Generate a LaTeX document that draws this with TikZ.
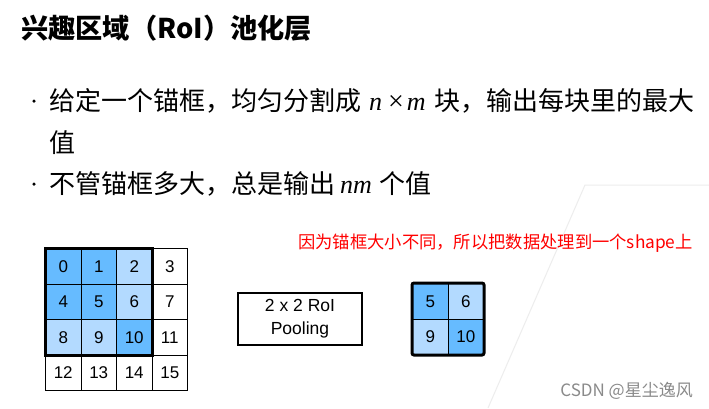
\documentclass[tikz,border=0pt]{standalone}
\usepackage{fontspec}
\setmainfont{Liberation Sans}
\newfontfamily\cjk{Noto Sans CJK SC}
\newfontfamily\letterfont{Liberation Serif}
\newcommand\varit[1]{{\letterfont\itshape #1}}
\usetikzlibrary{positioning}
\definecolor{roi-dark}{HTML}{66BBFF}
\definecolor{roi-light}{HTML}{B3DAFF}
\definecolor{bg-line}{HTML}{EDEDED}
\definecolor{mark-gray}{HTML}{8A8A8A}

\begin{document}
\begin{tikzpicture}[
        x=1pt, y=-1pt,
        every node/.style={inner sep=0pt},
        cell/.style={draw, line width=1pt, minimum size=35.5pt, anchor=north west, font=\fontsize{17}{17}\selectfont},
        outbox/.style={draw, line width=3pt},
        poolbox/.style={draw, line width=1.3pt, minimum width=124pt, minimum height=52pt, align=center, font=\fontsize{17.5}{23}\selectfont},
        titletext/.style={anchor=base west, font=\cjk\bfseries\fontsize{27.2}{27}\selectfont},
        itemtext/.style={anchor=base west, font=\cjk\fontsize{26}{26}\selectfont},
        itemdot/.style={circle, fill, minimum size=3.5pt},
        notetext/.style={anchor=base west, text=red, font=\cjk\fontsize{17.3}{17}\selectfont},
        marktext/.style={anchor=base east, text=mark-gray, font=\cjk\fontsize{17}{17}\selectfont}
    ]

    % --- 0. CANVAS ---
    \fill[white] (0,0) rectangle (709,408);
    \useasboundingbox (0,0) rectangle (709,408);
    \draw[bg-line, line width=1pt] (709,185) -- (585,185) -- (488,408);

    % --- 1. HEADER ---
    \node[titletext] (ttl) at (21,38) {兴趣区域（RoI）池化层};

    % --- 2. BULLETS ---
    \node[itemdot] (d1) at (34,101) {};
    \node[itemtext] (b1) at (49,110) {给定一个锚框，均匀分割成\hspace{8pt}\varit{n}\hspace{6pt}{\letterfont\fontsize{28}{28}\selectfont ×}\hspace{3pt}\varit{m}\hspace{9pt}块，输出每块里的最大};
    \node[itemtext] (b1b) at (49,152) {值};
    \node[itemdot] (d2) at (34,184) {};
    \node[itemtext] (b2) at (49,193) {不管锚框多大，总是输出\hspace{5pt}\varit{nm}\hspace{8pt}个值};

    \node[notetext] (note) at (298,248.5) {因为锚框大小不同，所以把数据处理到一个shape上};

    % --- 3. INPUT GRID ---
    \foreach \n/\clr in {0/roi-dark,1/roi-dark,2/roi-light,3/white,
                         4/roi-dark,5/roi-dark,6/roi-light,7/white,
                         8/roi-light,9/roi-light,10/roi-dark,11/white,
                         12/white,13/white,14/white,15/white}{
        \pgfmathtruncatemacro\col{mod(\n,4)}
        \pgfmathtruncatemacro\row{div(\n,4)}
        \node[cell, fill=\clr] (c\n) at (45+35.5*\col, 248+35.5*\row) {\n};
    }
    \draw[outbox] (c0.north west) rectangle (c10.south east);

    % --- 4. POOLING ---
    \node[poolbox] (pool) at (300,319) {2 x 2 RoI\\Pooling};

    % --- 5. OUTPUT GRID ---
    \node[cell, fill=roi-dark] (o5) at (412,283) {5};
    \node[cell, fill=roi-light] (o6) at (447.5,283) {6};
    \node[cell, fill=roi-light] (o9) at (412,318.5) {9};
    \node[cell, fill=roi-dark] (o10) at (447.5,318.5) {10};
    \draw[outbox, rounded corners=2pt] (o5.north west) rectangle (o10.south east);

    \node[marktext] (mark) at (693,396) {CSDN @星尘逸风};

\end{tikzpicture}
\end{document}
